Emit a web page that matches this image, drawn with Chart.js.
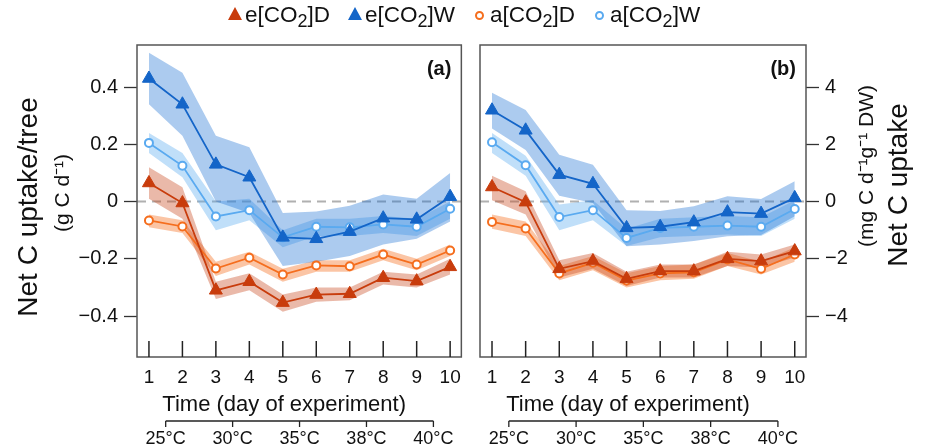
<!DOCTYPE html>
<html>
<head>
<meta charset="utf-8">
<script src="https://cdn.jsdelivr.net/npm/chart.js@4.4.1/dist/chart.umd.min.js"></script>
<style>
  body { margin: 0; background: #fff; font-family: "Liberation Sans", Arial, sans-serif; }
  #wrap { position: relative; width: 927px; height: 448px; }
  #left { position: absolute; left: 0; top: 0; }
  #right { position: absolute; left: 470px; top: 0; }
  #legend { position: absolute; left: 228px; top: 2px; display: flex; align-items: center; font-size: 22.5px; color: #111; }
  .item { display: flex; align-items: center; margin-right: 18px; white-space: nowrap; }
  .item sub { font-size: 0.8em; vertical-align: -0.25em; line-height: 0; }
  .tri { width: 0; height: 0; border-left: 7px solid transparent; border-right: 7px solid transparent; border-bottom: 13px solid; margin-right: 3px; margin-top: -4px; }
  .dot { width: 5px; height: 5px; border-radius: 50%; border: 2.5px solid; background: #fff; margin-right: 6px; margin-left: 2px; }
</style>
</head>
<body>
<div id="wrap">
  <canvas id="left" width="470" height="448"></canvas>
  <canvas id="right" width="457" height="448"></canvas>
  <div id="legend"></div>
</div>
<script>
// days of the experiment and the temperature steps below them
const days = [1, 2, 3, 4, 5, 6, 7, 8, 9, 10];
const tempDays = [1.5, 3.5, 5.5, 7.5, 9.5];
const tempLabels = ['25°C', '30°C', '35°C', '38°C', '40°C'];

const seriesNames = ['e[CO2]D', 'e[CO2]W', 'a[CO2]D', 'a[CO2]W'];
const seriesColors = ['#c83c0c', '#1465c8', '#f56e1e', '#5aaaf0'];
const bandColors = ['rgba(200,70,30,0.38)', 'rgba(25,110,210,0.36)', 'rgba(245,110,30,0.40)', 'rgba(90,170,240,0.38)'];

// (a) g C per tree per day
const yTicksA = [-0.4, -0.2, 0, 0.2, 0.4];
const eD_a = [0.065, -0.005, -0.31, -0.28, -0.353, -0.325, -0.322, -0.266, -0.278, -0.228];
const eD_a_hi = [0.12, 0.05, -0.28, -0.25, -0.325, -0.30, -0.30, -0.245, -0.255, -0.20];
const eD_a_lo = [0.01, -0.06, -0.34, -0.31, -0.385, -0.35, -0.345, -0.29, -0.30, -0.255];
const eW_a = [0.43, 0.34, 0.13, 0.085, -0.125, -0.13, -0.105, -0.058, -0.062, 0.017];
const eW_a_hi = [0.52, 0.45, 0.23, 0.19, -0.04, -0.035, -0.015, 0.025, 0.01, 0.10];
const eW_a_lo = [0.34, 0.23, 0.0, -0.04, -0.225, -0.21, -0.19, -0.15, -0.13, -0.07];
const aD_a = [-0.066, -0.087, -0.234, -0.196, -0.255, -0.223, -0.226, -0.185, -0.22, -0.171];
const aD_a_hi = [-0.045, -0.065, -0.21, -0.175, -0.235, -0.205, -0.205, -0.165, -0.20, -0.15];
const aD_a_lo = [-0.09, -0.11, -0.26, -0.22, -0.28, -0.245, -0.245, -0.205, -0.24, -0.19];
const aW_a = [0.205, 0.125, -0.052, -0.03, -0.125, -0.088, -0.09, -0.08, -0.088, -0.025];
const aW_a_hi = [0.24, 0.17, 0.0, 0.01, -0.10, -0.06, -0.06, -0.05, -0.06, 0.0];
const aW_a_lo = [0.17, 0.085, -0.10, -0.065, -0.16, -0.12, -0.12, -0.11, -0.12, -0.06];

// (b) mg C per g DW per day
const yTicksB = [-4, -2, 0, 2, 4];
const eD_b = [0.51, -0.02, -2.35, -2.08, -2.70, -2.43, -2.43, -2.00, -2.08, -1.73];
const eD_b_hi = [0.90, 0.36, -2.05, -1.80, -2.45, -2.20, -2.20, -1.75, -1.85, -1.50];
const eD_b_lo = [0.05, -0.45, -2.65, -2.35, -2.95, -2.65, -2.65, -2.25, -2.30, -1.95];
const eW_b = [3.19, 2.49, 0.94, 0.62, -0.92, -0.88, -0.72, -0.37, -0.42, 0.13];
const eW_b_hi = [3.80, 3.20, 1.64, 1.29, -0.30, -0.33, -0.16, 0.19, 0.09, 0.71];
const eW_b_lo = [2.55, 1.80, 0.20, -0.05, -1.56, -1.50, -1.38, -1.21, -1.17, -0.51];
const aD_b = [-0.71, -0.94, -2.51, -2.14, -2.76, -2.51, -2.47, -2.02, -2.35, -1.85];
const aD_b_hi = [-0.45, -0.70, -2.25, -1.90, -2.50, -2.25, -2.20, -1.80, -2.10, -1.60];
const aD_b_lo = [-0.95, -1.20, -2.75, -2.40, -3.00, -2.75, -2.70, -2.25, -2.55, -2.10];
const aW_b = [2.07, 1.27, -0.54, -0.30, -1.27, -0.92, -0.88, -0.84, -0.88, -0.26];
const aW_b_hi = [2.40, 1.60, -0.10, 0.05, -0.95, -0.60, -0.55, -0.50, -0.55, 0.05];
const aW_b_lo = [1.70, 0.90, -1.00, -0.65, -1.55, -1.25, -1.20, -1.15, -1.20, -0.60];

const FONT = '"Liberation Sans", Arial, sans-serif';

function toXY(vals) {
  return days.map((d, i) => ({ x: d, y: vals[i] }));
}

function makeDatasets(means, his, los) {
  const lines = means.map((m, i) => {
    const open = i >= 2;
    return {
      data: toXY(m),
      borderColor: seriesColors[i],
      borderWidth: 1.8,
      pointStyle: open ? 'circle' : 'triangle',
      pointRadius: open ? 4 : 7.5,
      pointBorderWidth: open ? 2 : 1,
      pointBorderColor: seriesColors[i],
      pointBackgroundColor: open ? '#fff' : seriesColors[i],
      fill: false,
      order: 0
    };
  });
  const bands = [];
  means.forEach((m, i) => {
    bands.push({ data: toXY(his[i]), borderWidth: 0, borderColor: 'rgba(0,0,0,0)', pointRadius: 0, fill: false, order: 1 });
    bands.push({ data: toXY(los[i]), borderWidth: 0, borderColor: 'rgba(0,0,0,0)', pointRadius: 0, fill: '-1', backgroundColor: bandColors[i], order: 1 });
  });
  return lines.concat(bands);
}

function minus(v) {
  return v < 0 ? '\u2212' + Math.abs(v) : String(v);
}

const panelDecor = {
  id: 'panelDecor',
  beforeDatasetsDraw(chart) {
    const { ctx, chartArea: a, scales: { y } } = chart;
    const y0 = y.getPixelForValue(0);
    ctx.save();
    ctx.strokeStyle = '#b0b0b0';
    ctx.lineWidth = 2;
    ctx.setLineDash([9, 6]);
    ctx.beginPath();
    ctx.moveTo(a.left, y0);
    ctx.lineTo(a.right, y0);
    ctx.stroke();
    ctx.restore();
  },
  afterDraw(chart, args, opts) {
    const { ctx, chartArea: a, scales: { x } } = chart;
    ctx.save();
    ctx.strokeStyle = '#555';
    ctx.lineWidth = 1.5;
    ctx.strokeRect(a.left, a.top, a.right - a.left, a.bottom - a.top);

    // day ticks point inward from the bottom edge
    ctx.strokeStyle = '#222';
    days.forEach(d => {
      const px = x.getPixelForValue(d);
      ctx.beginPath();
      ctx.moveTo(px, a.bottom);
      ctx.lineTo(px, a.bottom - 16);
      ctx.stroke();
    });

    ctx.fillStyle = '#111';
    ctx.textAlign = 'center';
    ctx.textBaseline = 'middle';

    // axis title sits a little left of the panel centre
    ctx.font = '22px ' + FONT;
    ctx.fillText('Time (day of experiment)', (a.left + a.right) / 2 - 15, a.bottom + 48);

    // temperature bracket
    const ty = a.bottom + 64;
    const tx = tempDays.map(d => x.getPixelForValue(d));
    ctx.lineWidth = 1.3;
    ctx.beginPath();
    ctx.moveTo(tx[0], ty);
    ctx.lineTo(tx[tx.length - 1], ty);
    ctx.stroke();
    ctx.font = '18px ' + FONT;
    tx.forEach((px, i) => {
      ctx.beginPath();
      ctx.moveTo(px, ty);
      ctx.lineTo(px, ty + 6);
      ctx.stroke();
      ctx.fillText(tempLabels[i], px, ty + 18);
    });

    ctx.font = 'bold 20px ' + FONT;
    ctx.textAlign = 'right';
    ctx.fillText(opts.tag, a.right - 10, a.top + 24);

    opts.titles.forEach(t => {
      ctx.save();
      ctx.translate(t.x, t.y);
      ctx.rotate(-Math.PI / 2);
      ctx.textAlign = 'center';
      ctx.font = t.size + 'px ' + FONT;
      ctx.fillText(t.text, 0, 0);
      ctx.restore();
    });
    ctx.restore();
  }
};

function makeOptions(cfg) {
  return {
    responsive: false,
    animation: false,
    layout: { padding: cfg.padding },
    plugins: {
      legend: { display: false },
      tooltip: { enabled: false },
      panelDecor: { tag: cfg.tag, titles: cfg.titles }
    },
    scales: {
      x: {
        type: 'linear',
        min: 0.643,
        max: 10.335,
        afterBuildTicks: s => { s.ticks = days.map(v => ({ value: v })); },
        afterFit: s => { s.height = 91; },
        grid: { display: false, drawTicks: false },
        border: { display: false },
        ticks: { padding: 9, color: '#111', font: { size: 19, family: FONT }, maxRotation: 0, autoSkip: false }
      },
      y: {
        position: cfg.yPos,
        min: cfg.yMin,
        max: cfg.yMax,
        afterBuildTicks: s => { s.ticks = cfg.yTicks.map(v => ({ value: v })); },
        afterFit: s => { s.width = cfg.yWidth; },
        grid: { drawOnChartArea: false, tickLength: 13, tickColor: '#333', tickWidth: 1.3 },
        border: { display: false },
        ticks: { padding: 6, color: '#111', font: { size: 20, family: FONT }, callback: v => minus(v) }
      }
    }
  };
}

new Chart(document.getElementById('left'), {
  type: 'line',
  data: { datasets: makeDatasets([eD_a, eW_a, aD_a, aW_a], [eD_a_hi, eW_a_hi, aD_a_hi, aW_a_hi], [eD_a_lo, eW_a_lo, aD_a_lo, aW_a_lo]) },
  options: makeOptions({
    tag: '(a)',
    padding: { left: 0, right: 6, top: 45, bottom: 0 },
    yPos: 'left', yWidth: 137, yMin: -0.543, yMax: 0.547, yTicks: yTicksA,
    titles: [
      { text: 'Net C uptake/tree', x: 29, y: 207, size: 28 },
      { text: '(g C d\u207B\u00B9)', x: 63, y: 193, size: 21 }
    ]
  }),
  plugins: [panelDecor]
});

new Chart(document.getElementById('right'), {
  type: 'line',
  data: { datasets: makeDatasets([eD_b, eW_b, aD_b, aW_b], [eD_b_hi, eW_b_hi, aD_b_hi, aW_b_hi], [eD_b_lo, eW_b_lo, aD_b_lo, aW_b_lo]) },
  options: makeOptions({
    tag: '(b)',
    padding: { left: 10, right: 0, top: 45, bottom: 0 },
    yPos: 'right', yWidth: 121, yMin: -5.43, yMax: 5.47, yTicks: yTicksB,
    titles: [
      { text: '(mg C d\u207B\u00B9g\u207B\u00B9 DW)', x: 397, y: 166, size: 21 },
      { text: 'Net C uptake', x: 429, y: 185, size: 28 }
    ]
  }),
  plugins: [panelDecor]
});

// legend above both panels
const legend = document.getElementById('legend');
seriesNames.forEach((name, i) => {
  const item = document.createElement('div');
  item.className = 'item';
  const mark = document.createElement('span');
  if (i < 2) {
    mark.className = 'tri';
    mark.style.borderBottomColor = seriesColors[i];
  } else {
    mark.className = 'dot';
    mark.style.borderColor = seriesColors[i];
  }
  const label = document.createElement('span');
  label.innerHTML = name.replace('CO2', 'CO<sub>2</sub>');
  item.appendChild(mark);
  item.appendChild(label);
  legend.appendChild(item);
});
</script>
</body>
</html>
